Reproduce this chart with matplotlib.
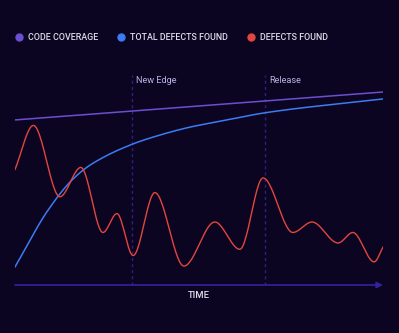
import numpy as np
import matplotlib
matplotlib.use("Agg")
import matplotlib.pyplot as plt
from matplotlib.lines import Line2D

# ---- data -------------------------------------------------------------
coverage_t = [0, 100]
coverage_v = [78.6, 91.9]

total_t = [0, 9, 15.5, 20.4, 31.8, 38.6, 47.6, 56.5, 67.9, 100]
total_v = [8.6, 35.7, 50, 57.1, 67.0, 71.0, 75.2, 78.2, 82.0, 88.6]

defects_t = [0, 5, 12.2, 17.9, 23.9, 27.7, 32.1, 38, 45.9, 54.3, 61.1, 67.4,
             75.5, 80.7, 87.8, 91.8, 97.6, 100]
defects_v = [55, 76, 42, 56, 25, 34, 14, 44, 9, 30, 17, 51,
             25, 30, 20, 25, 11, 18]

milestones = ["New Edge", "Release"]
milestone_t = [31.8, 67.9]

legend_labels = ["CODE COVERAGE", "TOTAL DEFECTS FOUND", "DEFECTS FOUND"]
x_label = "TIME"

# ---- style ------------------------------------------------------------
BG = "#0c0522"
C_COV = "#6a4fd2"
C_TOT = "#3b7cf2"
C_DEF = "#e2463e"
C_AXIS = "#3422a0"
C_DASH = "#2f2080"
C_TEXT = "#dcdcec"
C_MILE = "#b9b2e2"
FONT = "Roboto"


def monotone(x, y, n=400):
    """Monotone cubic (Fritsch-Carlson) curve through the given points."""
    x = np.asarray(x, float)
    y = np.asarray(y, float)
    h = np.diff(x)
    d = np.diff(y) / h
    m = np.zeros_like(y)
    m[0], m[-1] = d[0], d[-1]
    for i in range(1, len(y) - 1):
        if d[i - 1] * d[i] <= 0:
            m[i] = 0.0
        else:
            w1 = 2 * h[i] + h[i - 1]
            w2 = h[i] + 2 * h[i - 1]
            m[i] = (w1 + w2) / (w1 / d[i - 1] + w2 / d[i])
    xs = np.linspace(x[0], x[-1], n)
    idx = np.clip(np.searchsorted(x, xs) - 1, 0, len(x) - 2)
    t = (xs - x[idx]) / h[idx]
    h00 = 2 * t**3 - 3 * t**2 + 1
    h10 = t**3 - 2 * t**2 + t
    h01 = -2 * t**3 + 3 * t**2
    h11 = t**3 - t**2
    ys = (h00 * y[idx] + h10 * h[idx] * m[idx]
          + h01 * y[idx + 1] + h11 * h[idx] * m[idx + 1])
    return xs, ys


W, H = 399, 333
fig = plt.figure(figsize=(W / 100, H / 100), dpi=100, facecolor=BG)
ax = fig.add_axes([15 / W, 1 - 285 / H, 368 / W, 210 / H])
ax.set_facecolor(BG)
ax.set_xlim(0, 100)
ax.set_ylim(0, 100)
ax.axis("off")

# milestone markers
ax.vlines(milestone_t, 0, 100, colors=C_DASH, linestyles=(0, (2.2, 2.2)),
          linewidth=1.0, zorder=1)
for name, t in zip(milestones, milestone_t):
    ax.text(t + 1.1, 97.5, name, color=C_MILE, fontsize=6.6, family=FONT,
            ha="left", va="center")

# series
ax.plot(coverage_t, coverage_v, color=C_COV, lw=1.1, zorder=3,
        solid_capstyle="butt")
xs, ys = monotone(total_t, total_v)
ax.plot(xs, ys, color=C_TOT, lw=1.1, zorder=3)
xs, ys = monotone(defects_t, defects_v)
ax.plot(xs, ys, color=C_DEF, lw=1.0, zorder=4)

# time axis with arrow
ax.annotate("", xy=(100, 0), xytext=(0, 0), annotation_clip=False,
            arrowprops=dict(arrowstyle="-|>", color=C_AXIS, lw=1.2,
                            mutation_scale=9, shrinkA=0, shrinkB=0))
ax.text(50, -5.2, x_label, color=C_TEXT, fontsize=6.8, family=FONT,
        fontweight="medium", ha="center", va="center")

# legend
legend_x = [19, 121, 251]
legend_colors = [C_COV, C_TOT, C_DEF]
for px, lab, c in zip(legend_x, legend_labels, legend_colors):
    fig.add_artist(Line2D([px / W], [1 - 37 / H], marker="o", markersize=5,
                          color=c, linestyle="", transform=fig.transFigure))
    fig.text((px + 9.5) / W, 1 - 37.5 / H, lab, color=C_TEXT, fontsize=6.4,
             family=FONT, fontweight="medium", ha="left", va="center")

fig.savefig("out.png", dpi=100, facecolor=BG)
